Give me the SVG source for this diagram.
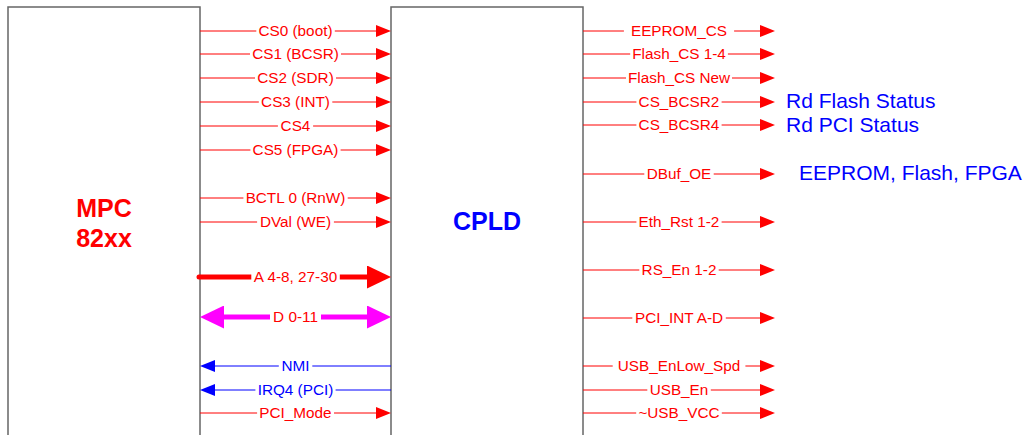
<svg xmlns="http://www.w3.org/2000/svg" width="1031" height="435" viewBox="0 0 1031 435">
<style>
.box{fill:#fff;stroke:#666;stroke-width:1.5}
.w{stroke-width:1;fill:none}
.r{stroke:#ff0000}
.b{stroke:#0000ff}
.bg rect{fill:#fff}
.lbl{font-family:"Liberation Sans",Arial,sans-serif;font-size:15.3px;text-anchor:middle}
.lr{fill:#ff0000}
.lb{fill:#0000ff}
.ann{font-family:"Liberation Sans",Arial,sans-serif;font-size:21px;fill:#0000ff}
.big{font-family:"Liberation Sans",Arial,sans-serif;font-weight:bold;text-anchor:middle}
</style>
<defs>
<marker id="hr" markerUnits="userSpaceOnUse" markerWidth="15" markerHeight="12" refX="11" refY="6" orient="auto"><path d="M0,0L15,6L0,12z" fill="#ff0000"/></marker>
<marker id="hb" markerUnits="userSpaceOnUse" markerWidth="15" markerHeight="12" refX="11" refY="6" orient="auto"><path d="M0,0L15,6L0,12z" fill="#0000ff"/></marker>
<marker id="hR" markerUnits="userSpaceOnUse" markerWidth="24" markerHeight="23" refX="12" refY="11.5" orient="auto"><path d="M0,0L24,11.5L0,23z" fill="#ff0000"/></marker>
<marker id="hM" markerUnits="userSpaceOnUse" markerWidth="24" markerHeight="23" refX="12" refY="11.5" orient="auto-start-reverse"><path d="M0,0L24,11.5L0,23z" fill="#ff00ff"/></marker>
</defs>
<rect width="1031" height="435" fill="#fff"/>
<g id="mpc">
<rect class="box" x="8" y="7" width="192" height="440"/>
<text class="big" x="104" y="217" font-size="25" fill="#ff0000">MPC</text>
<text class="big" x="104" y="247" font-size="25" fill="#ff0000">82xx</text>
</g>
<g id="cpld">
<rect class="box" x="391" y="7" width="192" height="440"/>
<text class="big" x="487" y="230" font-size="25" fill="#0000ff">CPLD</text>
</g>
<g id="connectors">
<g class="w r" marker-end="url(#hr)">
<path d="M200,31H387"/>
<path d="M200,54H387"/>
<path d="M200,78H387"/>
<path d="M200,102H387"/>
<path d="M200,126H387"/>
<path d="M200,150H387"/>
<path d="M200,198H387"/>
<path d="M200,222H387"/>
<path d="M200,413H387"/>
<path d="M583,31H771"/>
<path d="M583,54H771"/>
<path d="M583,78H771"/>
<path d="M583,102H771"/>
<path d="M583,125H771"/>
<path d="M583,174H771"/>
<path d="M583,222H771"/>
<path d="M583,270H771"/>
<path d="M583,318H771"/>
<path d="M583,366H771"/>
<path d="M583,390H771"/>
<path d="M583,413H771"/>
</g>
<g class="w b" marker-end="url(#hb)">
<path d="M391,366H204"/>
<path d="M391,390H204"/>
</g>
<path d="M199,277H379" stroke="#ff0000" stroke-width="5" stroke-linecap="round" fill="none" marker-end="url(#hR)"/>
<path d="M212,317H379" stroke="#ff00ff" stroke-width="5" fill="none" marker-start="url(#hM)" marker-end="url(#hM)"/>
<g class="bg">
<rect x="256.3" y="23" width="78.5" height="16"/>
<rect x="250" y="46" width="91" height="16"/>
<rect x="255" y="70" width="81" height="16"/>
<rect x="258.8" y="94" width="73.5" height="16"/>
<rect x="277.9" y="118" width="35.2" height="16"/>
<rect x="250.4" y="142" width="90.2" height="16"/>
<rect x="243.4" y="190" width="104.3" height="16"/>
<rect x="257.1" y="214" width="76.8" height="16"/>
<rect x="251.3" y="267" width="88.5" height="20"/>
<rect x="270" y="307" width="51" height="20"/>
<rect x="278.8" y="358" width="33.5" height="16"/>
<rect x="255.4" y="382" width="80.2" height="16"/>
<rect x="257.1" y="405" width="76.9" height="16"/>
<rect x="623.9" y="23" width="110.2" height="16"/>
<rect x="630.2" y="46" width="97.7" height="16"/>
<rect x="626" y="70" width="106" height="16"/>
<rect x="636.4" y="94" width="85.2" height="16"/>
<rect x="636.4" y="117" width="85.2" height="16"/>
<rect x="644.3" y="166" width="69.4" height="16"/>
<rect x="636.4" y="214" width="85.2" height="16"/>
<rect x="639.3" y="262" width="79.4" height="16"/>
<rect x="632.3" y="310" width="93.5" height="16"/>
<rect x="612.7" y="358" width="132.7" height="16"/>
<rect x="647.3" y="382" width="63.5" height="16"/>
<rect x="636.2" y="405" width="85.6" height="16"/>
</g>
<g class="lbl lr">
<text x="295.5" y="36">CS0 (boot)</text>
<text x="295.5" y="59">CS1 (BCSR)</text>
<text x="295.5" y="83">CS2 (SDR)</text>
<text x="295.5" y="107">CS3 (INT)</text>
<text x="295.5" y="131">CS4</text>
<text x="295.5" y="155">CS5 (FPGA)</text>
<text x="295.5" y="203">BCTL 0 (RnW)</text>
<text x="295.5" y="227">DVal (WE)</text>
<text x="295.5" y="282">A 4-8, 27-30</text>
<text x="295.5" y="322">D 0-11</text>
<text x="295.5" y="418">PCI_Mode</text>
<text x="679" y="36">EEPROM_CS</text>
<text x="679" y="59">Flash_CS 1-4</text>
<text x="679" y="83">Flash_CS New</text>
<text x="679" y="107">CS_BCSR2</text>
<text x="679" y="130">CS_BCSR4</text>
<text x="679" y="179">DBuf_OE</text>
<text x="679" y="227">Eth_Rst 1-2</text>
<text x="679" y="275">RS_En 1-2</text>
<text x="679" y="323">PCI_INT A-D</text>
<text x="679" y="371">USB_EnLow_Spd</text>
<text x="679" y="395">USB_En</text>
<text x="679" y="418">~USB_VCC</text>
</g>
<g class="lbl lb">
<text x="295.5" y="371">NMI</text>
<text x="295.5" y="395">IRQ4 (PCI)</text>
</g>
</g>
<g id="notes">
<text class="ann" x="786" y="108">Rd Flash Status</text>
<text class="ann" x="786" y="132">Rd PCI Status</text>
<text class="ann" x="799" y="180">EEPROM, Flash, FPGA</text>
</g>
</svg>
